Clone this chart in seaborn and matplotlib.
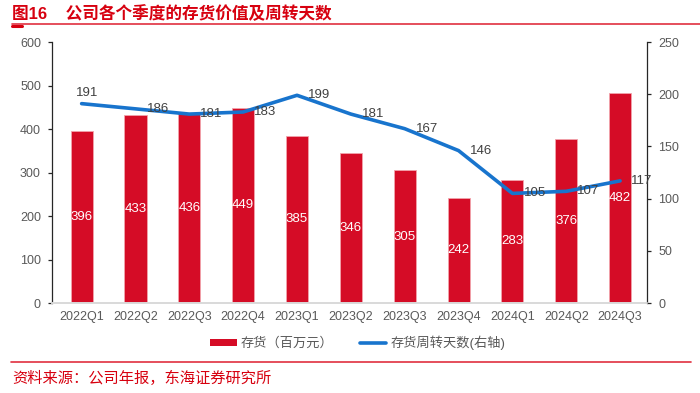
import numpy as np
import pandas as pd
import matplotlib
matplotlib.use("Agg")
import matplotlib.pyplot as plt
import seaborn as sns
from matplotlib.lines import Line2D
from matplotlib.patches import Patch

# data
quarters = ["2022Q1", "2022Q2", "2022Q3", "2022Q4", "2023Q1", "2023Q2",
            "2023Q3", "2023Q4", "2024Q1", "2024Q2", "2024Q3"]
inventory = [396, 433, 436, 449, 385, 346, 305, 242, 283, 376, 482]
turnover_days = [191, 186, 181, 183, 199, 181, 167, 146, 105, 107, 117]

title_text = "图16    公司各个季度的存货价值及周转天数"
source_text = "资料来源：公司年报，东海证券研究所"
bar_label = "存货（百万元）"
line_label = "存货周转天数(右轴)"

RED = "#D50C26"
BLUE = "#1874CD"
GREY = "#595959"

sns.set_theme(style="white")
plt.rcParams["font.family"] = ["Liberation Sans", "Noto Sans CJK SC", "DejaVu Sans"]

df = pd.DataFrame({"quarter": quarters, "inventory": inventory, "days": turnover_days})

fig = plt.figure(figsize=(7.0, 3.93), dpi=100)
ax = fig.add_axes([0.0743, 0.229, 0.85, 0.664])

sns.barplot(data=df, x="quarter", y="inventory", color=RED, width=0.41,
            edgecolor="#F2A3AC", linewidth=0.6, saturation=1, ax=ax)
ax.set_ylim(0, 600)
ax.set_yticks(range(0, 601, 100))
ax.set_xlim(-0.55, 10.5)
ax.set_xlabel("")
ax.set_ylabel("")

# value labels in the middle of the bars
for i, v in enumerate(df["inventory"]):
    ax.text(i, v / 2, f"{v}", color="white", fontsize=9.5, ha="center", va="center")

ax2 = ax.twinx()
sns.lineplot(x=np.arange(len(df)), y=df["days"], color=BLUE, linewidth=2.6, ax=ax2)
ax2.set_ylim(0, 250)
ax2.set_yticks(range(0, 251, 50))
ax2.set_ylabel("")
ax2.set_xlim(-0.55, 10.5)

for i, v in enumerate(df["days"]):
    if i == 0:
        ax2.annotate(f"{v}", (i, v), xytext=(4, 8), textcoords="offset points",
                     ha="center", va="center", fontsize=9.5, color="#404040")
    else:
        ax2.annotate(f"{v}", (i, v), xytext=(8, 0), textcoords="offset points",
                     ha="left", va="center", fontsize=9.5, color="#404040")

for a in (ax, ax2):
    a.spines["top"].set_visible(False)
    a.spines["bottom"].set_color("#D9D9D9")
    a.spines["bottom"].set_linewidth(1.2)
    a.tick_params(axis="both", labelsize=9, labelcolor=GREY, length=0)
ax.spines["right"].set_visible(False)
ax.spines["left"].set_color("#262626")
ax.spines["left"].set_linewidth(0.9)
ax.tick_params(axis="y", length=3, width=0.9, color="#262626", direction="out", pad=5)
ax.tick_params(axis="x", pad=6)
ax2.spines["left"].set_visible(False)
ax2.spines["right"].set_color("#262626")
ax2.spines["right"].set_linewidth(0.9)
ax2.tick_params(axis="y", length=3, width=0.9, color="#262626", direction="out", pad=5)

handles = [Patch(facecolor=RED, edgecolor="none"),
           Line2D([0], [0], color=BLUE, linewidth=2.6)]
fig.legend(handles, [bar_label, line_label], loc="center", bbox_to_anchor=(0.511, 0.128),
           ncol=2, frameon=False, fontsize=9.5, labelcolor=GREY, handlelength=2.0,
           handleheight=0.45, columnspacing=2.0, handletextpad=0.3)

# header and footer
fig.text(0.017, 0.966, title_text, color="#D7000F", fontsize=12,
         fontweight="bold", ha="left", va="center")
fig.add_artist(Line2D([0.017, 1.0], [0.94, 0.94], color="#E03040", linewidth=1.2))
fig.add_artist(Line2D([0.017, 0.032], [0.935, 0.935], color="#D7000F", linewidth=2.2))
fig.add_artist(Line2D([0.016, 0.987], [0.078, 0.078], color="#E03040", linewidth=1.2))
fig.text(0.017, 0.038, source_text, color="#D7000F", fontsize=11,
         ha="left", va="center")

fig.savefig("out.png", dpi=100)
